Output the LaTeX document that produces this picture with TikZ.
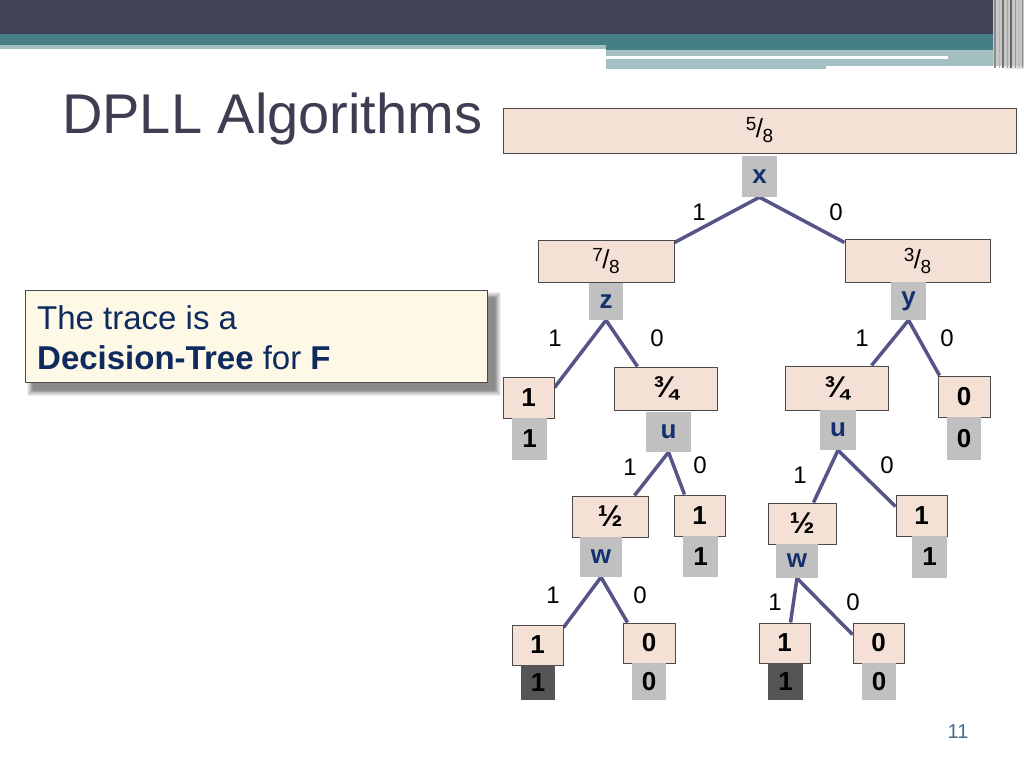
\documentclass[tikz,border=0pt]{standalone}
\usepackage{fontspec}
\setmainfont{Liberation Sans}
\usetikzlibrary{calc}
\definecolor{topdark}{HTML}{424255}
\definecolor{teal}{HTML}{457F84}
\definecolor{lteal}{HTML}{A3BFC2}
\definecolor{peach}{HTML}{F5E0D6}
\definecolor{boxline}{HTML}{4A4A4A}
\definecolor{labgray}{HTML}{C0C0C0}
\definecolor{darklab}{HTML}{555555}
\definecolor{navy}{HTML}{14306E}
\definecolor{textnavy}{HTML}{0E2A5E}
\definecolor{edgecol}{HTML}{555588}
\definecolor{titlecol}{HTML}{3E3E52}
\definecolor{cream}{HTML}{FDF9E6}
\definecolor{pagecol}{HTML}{4A6A88}
\pgfdeclarelayer{bg}
\pgfsetlayers{bg,main}
\newcommand{\myfr}[2]{\raisebox{7pt}{\fontsize{19}{19}\selectfont #1}\kern-0.5pt{\fontsize{26}{26}\selectfont/}\kern-0.5pt\raisebox{-5pt}{\fontsize{19}{19}\selectfont #2}}
\newcommand{\vfr}[1]{{\fontsize{30}{30}\selectfont\bfseries #1}}
\begin{document}
\begin{tikzpicture}[x=1pt,y=-1pt,
  pbox/.style={draw=boxline,line width=1pt,fill=peach,inner sep=0pt,text=black,font=\fontsize{26}{26}\selectfont\bfseries},
  fbox/.style={pbox,font=\fontsize{22}{22}\selectfont},
  glab/.style={fill=labgray,inner sep=0pt,text=navy,font=\fontsize{26}{26}\selectfont\bfseries},
  gnum/.style={glab,text=black},
  dlab/.style={fill=darklab,inner sep=0pt,text=black,font=\fontsize{26}{26}\selectfont\bfseries},
  edge/.style={draw=edgecol,line width=3.5pt},
  elab/.style={inner sep=0pt,text=black,font=\fontsize{24}{24}\selectfont}]
\useasboundingbox (0,0) rectangle (1024,768);
\begin{pgfonlayer}{bg}
\fill[white] (0,0) rectangle (1024,768);
\end{pgfonlayer}
% top decoration
\fill[topdark] (0,0) rectangle (1024,34);
\fill[teal] (0,34) rectangle (993,45);
\fill[lteal] (0,45) rectangle (606,49);
\fill[teal] (606,45) rectangle (993,50);
\fill[lteal] (606,50) rectangle (993,56);
\fill[white] (606,56) rectangle (948,58);
\fill[lteal] (948,56) rectangle (993,59);
\fill[lteal] (606,59) rectangle (993,66);
\fill[lteal] (606,66) rectangle (826,69);
\fill[black!22] (993,0) rectangle (1024,66);
\fill[black!10] (1005,66) rectangle (1024,69);
\foreach \xx/\cc/\ww in {995/black!45/1.5,999/black!30/1,1003/black!55/1.5,1007/black!35/1,1011/black!60/1.5,1015/black!40/1,1019/black!25/1.5,1022/black!45/1}
  \draw[\cc,line width=\ww pt] (\xx,0) -- (\xx,68);
% title
\node[anchor=base west,inner sep=0pt,text=titlecol,font=\fontsize{56}{60}\selectfont] (title) at (62,133) {DPLL Algorithms};
% text box shadow
\foreach \i in {0,...,7}
  \fill[black,opacity=0.07] (33-\i*0.8,298-\i*0.8) rectangle (495+\i*0.8,390+\i*0.8);
\node[draw=boxline,line width=0.8pt,fill=cream,minimum width=462pt,minimum height=92pt,inner sep=0pt] (tbox) at (256,336) {};
\node[anchor=base west,inner sep=0pt,text=textnavy,font=\fontsize{33}{33}\selectfont] (t1) at (37,329) {The trace is a};
\node[anchor=base west,inner sep=0pt,text=textnavy,font=\fontsize{33}{33}\selectfont] (t2) at (37,369) {\textbf{Decision-Tree} for \textbf{F}};
% tree nodes
\node[fbox,minimum width=513pt,minimum height=45pt] (root) at (759.5,130.5) {\myfr{5}{8}};
\node[glab,minimum width=35pt,minimum height=41pt] (xl) at (759.5,176.5) {x};
\node[fbox,minimum width=136pt,minimum height=42pt] (n78) at (606,261) {\myfr{7}{8}};
\node[glab,minimum width=34pt,minimum height=37pt] (zl) at (606,301.5) {z};
\node[fbox,minimum width=145pt,minimum height=43pt] (n38) at (917.5,260.5) {\myfr{3}{8}};
\node[glab,minimum width=35pt,minimum height=38pt] (yl) at (908.5,301) {y};
\node[pbox,minimum width=51pt,minimum height=41pt] (la) at (528.5,397.5) {1};
\node[gnum,minimum width=35pt,minimum height=42pt] (gla) at (529.5,439) {1};
\node[fbox,minimum width=103pt,minimum height=43pt] (n34l) at (665.5,388.5) {\vfr{¾}};
\node[glab,minimum width=45pt,minimum height=40pt] (ul) at (668.5,432) {u};
\node[fbox,minimum width=103pt,minimum height=44pt] (n34r) at (836.5,388) {\vfr{¾}};
\node[glab,minimum width=36pt,minimum height=40pt] (ur) at (838,430) {u};
\node[pbox,minimum width=52pt,minimum height=41pt] (lb) at (964,396.5) {0};
\node[gnum,minimum width=34pt,minimum height=43pt] (glb) at (964,438.5) {0};
\node[fbox,minimum width=76pt,minimum height=41pt] (n12l) at (610,516.5) {\vfr{½}};
\node[glab,minimum width=42pt,minimum height=40pt] (wl) at (601,557) {w};
\node[pbox,minimum width=51pt,minimum height=41pt] (lc) at (699.5,515.5) {1};
\node[gnum,minimum width=35pt,minimum height=41pt] (glc) at (700.5,556.5) {1};
\node[fbox,minimum width=68pt,minimum height=41pt] (n12r) at (802,523.5) {\vfr{½}};
\node[glab,minimum width=42pt,minimum height=34pt] (wr) at (797,561) {w};
\node[pbox,minimum width=51pt,minimum height=41pt] (ld) at (921.5,515.5) {1};
\node[gnum,minimum width=35pt,minimum height=42pt] (gld) at (929.5,557) {1};
\node[pbox,minimum width=51pt,minimum height=40pt] (le) at (537.5,645) {1};
\node[dlab,minimum width=34pt,minimum height=35pt] (gle) at (538,682.5) {1};
\node[pbox,minimum width=52pt,minimum height=40pt] (lf) at (649,643) {0};
\node[gnum,minimum width=34pt,minimum height=37pt] (glf) at (649,681.5) {0};
\node[pbox,minimum width=51pt,minimum height=40pt] (lg) at (784.5,643) {1};
\node[dlab,minimum width=35pt,minimum height=37pt] (glg) at (785.5,681.5) {1};
\node[pbox,minimum width=51pt,minimum height=40pt] (lh) at (878.5,643) {0};
\node[gnum,minimum width=34pt,minimum height=37pt] (glh) at (879,681.5) {0};
% edges
\begin{pgfonlayer}{bg}
\draw[edge] (xl.south) -- ($(n78.north east)+(0,3)$);
\draw[edge] (xl.south) -- ($(n38.north west)+(0,4)$);
\draw[edge] (zl.south) -- ($(la.north east)+(0,11)$);
\draw[edge] (zl.south) -- ($(n34l.north west)+(24,0)$);
\draw[edge] (yl.south) -- ($(n34r.north east)+(-17,0)$);
\draw[edge] (yl.south) -- ($(lb.north west)+(2,0)$);
\draw[edge] (ul.south) -- ($(n12l.north east)+(-14,0)$);
\draw[edge] (ul.south) -- ($(lc.north west)+(11,0)$);
\draw[edge] (ur.south) -- ($(n12r.north east)+(-23,0)$);
\draw[edge] (ur.south) -- ($(ld.north west)+(0,12)$);
\draw[edge] (wl.south) -- ($(le.north east)+(0,3)$);
\draw[edge] (wl.south) -- ($(lf.north west)+(5,0)$);
\draw[edge] (wr.south) -- ($(lg.north east)+(-20,0)$);
\draw[edge] (wr.south) -- ($(lh.north west)+(0,12)$);
\end{pgfonlayer}
% edge labels
\node[elab] (e1) at (699,212) {1};
\node[elab] (e2) at (836,212) {0};
\node[elab] (e3) at (555,338) {1};
\node[elab] (e4) at (657,338) {0};
\node[elab] (e5) at (862,338) {1};
\node[elab] (e6) at (947,338) {0};
\node[elab] (e7) at (630,467) {1};
\node[elab] (e8) at (700,465) {0};
\node[elab] (e9) at (800,475) {1};
\node[elab] (e10) at (887,465) {0};
\node[elab] (e11) at (553,595) {1};
\node[elab] (e12) at (640,595) {0};
\node[elab] (e13) at (775,602) {1};
\node[elab] (e14) at (853,602) {0};
% page number
\node[inner sep=0pt,text=pagecol,font=\fontsize{20}{20}\selectfont] (pg) at (958,732) {11};
\end{tikzpicture}
\end{document}
